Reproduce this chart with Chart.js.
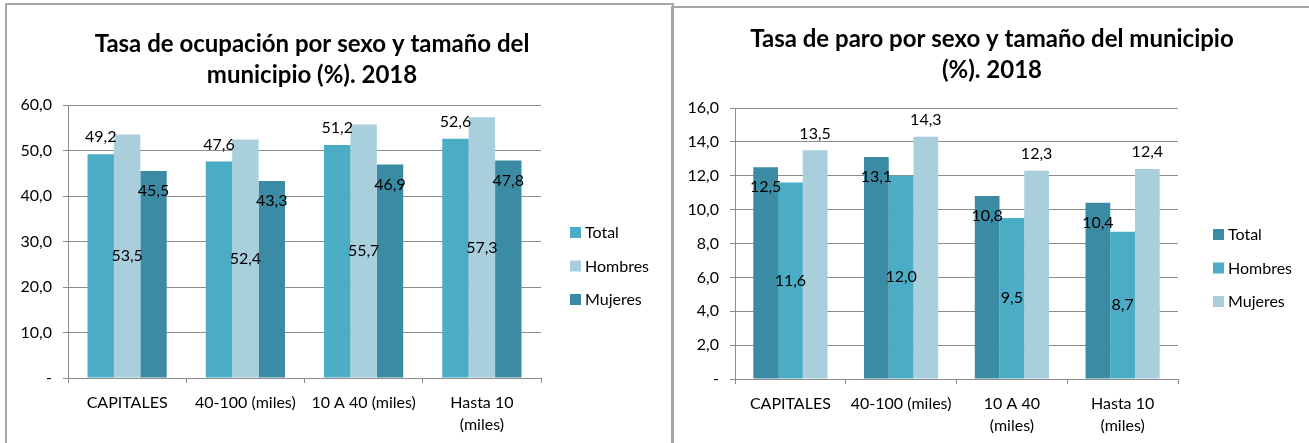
<!DOCTYPE html>
<html>
<head>
<meta charset="utf-8">
<script src="https://cdn.jsdelivr.net/npm/chart.js@4/dist/chart.umd.min.js"></script>
<style>
  html, body { margin: 0; padding: 0; background: #fff; overflow: hidden; }
  body { width: 1309px; height: 443px; position: relative; }
  canvas { position: absolute; top: 0; }
  .frame { position: absolute; border: 2px solid #a6a6a6; box-sizing: border-box; }
</style>
</head>
<body>
<div class="frame" style="left:5px;top:3px;width:669px;height:460px;"></div>
<div class="frame" style="left:671px;top:6px;width:660px;height:460px;"></div>
<canvas id="ocupacion" width="672" height="443" style="left:0"></canvas>
<canvas id="paro" width="637" height="443" style="left:672px"></canvas>
<script>
// categorías (tamaño del municipio)
const catsOcupacion = ["CAPITALES", "40-100 (miles)", "10 A 40 (miles)", ["Hasta 10", "(miles)"]];
const catsParo = ["CAPITALES", "40-100 (miles)", ["10 A 40", "(miles)"], ["Hasta 10", "(miles)"]];

// tasa de ocupación (%)
const ocupTotal = [49.2, 47.6, 51.2, 52.6];
const ocupHombres = [53.5, 52.4, 55.7, 57.3];
const ocupMujeres = [45.5, 43.3, 46.9, 47.8];

// tasa de paro (%)
const paroTotal = [12.5, 13.1, 10.8, 10.4];
const paroHombres = [11.6, 12.0, 9.5, 8.7];
const paroMujeres = [13.5, 14.3, 12.3, 12.4];

const ocupTicks = [0, 10, 20, 30, 40, 50, 60];
const paroTicks = [0, 2, 4, 6, 8, 10, 12, 14, 16];

const tituloOcupacion = ["Tasa de ocupación por sexo y tamaño del", "municipio (%). 2018"];
const tituloParo = ["Tasa de paro por sexo y tamaño del municipio", "(%). 2018"];

const MEDIO = "#4bacc6", CLARO = "#a9cfdd", OSCURO = "#3c8ba4";
const GRIS = "#8c8c8c";
const FUENTE = "Lato, 'Open Sans', sans-serif";

const fmt = (v) => (v === 0 ? "-" : v.toFixed(1).replace(".", ","));

// títulos, leyenda y etiquetas de datos a la manera de Excel
const excelBits = {
    id: "excelBits",
    afterDatasetsDraw(chart, args, opts) {
        const ctx = chart.ctx;
        ctx.save();
        ctx.fillStyle = "#000";
        ctx.textAlign = "center";
        ctx.textBaseline = "middle";
        ctx.font = "16px " + FUENTE;
        chart.data.datasets.forEach((ds, i) => {
            chart.getDatasetMeta(i).data.forEach((bar, j) => {
                let y;
                if (ds.labelPos === "out") y = bar.y - 17;
                else if (ds.labelPos === "in") y = bar.y + 20;
                else y = (bar.y + bar.base) / 2;
                ctx.fillText(fmt(ds.data[j]), bar.x, y);
            });
        });

        // título
        ctx.font = "bold 24px " + FUENTE;
        opts.title.forEach((line, k) => ctx.fillText(line, opts.titleX, opts.titleY + k * 31));

        // leyenda
        ctx.font = "16px " + FUENTE;
        ctx.textAlign = "left";
        chart.data.datasets.forEach((ds, i) => {
            const y = opts.legendY + i * 33.5;
            ctx.fillStyle = ds.backgroundColor;
            ctx.fillRect(opts.legendX, y - 6, 11, 11);
            ctx.fillStyle = "#000";
            ctx.fillText(ds.label, opts.legendX + 15, y);
        });
        ctx.restore();
    },
};

function hacerGrafico(id, labels, series, colores, posiciones, ticks, extra, pad, anchoY, altoX) {
    const nombres = ["Total", "Hombres", "Mujeres"];
    return new Chart(document.getElementById(id), {
        type: "bar",
        data: {
            labels: labels,
            datasets: series.map((d, i) => ({
                label: nombres[i],
                data: d,
                backgroundColor: colores[i],
                labelPos: posiciones[i],
                barPercentage: 1,
                categoryPercentage: 0.67,
            })),
        },
        options: {
            responsive: false,
            devicePixelRatio: 1,
            animation: false,
            layout: { padding: pad },
            plugins: {
                legend: { display: false },
                title: { display: false },
                tooltip: { enabled: false },
                excelBits: extra,
            },
            scales: {
                x: {
                    grid: { drawOnChartArea: false, drawTicks: true, tickLength: 5, color: GRIS, offset: true },
                    border: { color: GRIS },
                    ticks: {
                        color: "#000",
                        font: { family: FUENTE, size: 16, lineHeight: 1.35 },
                        padding: 9,
                        maxRotation: 0,
                        autoSkip: false,
                    },
                    afterFit: (s) => { s.height = altoX; },
                },
                y: {
                    min: ticks[0],
                    max: ticks[ticks.length - 1],
                    afterBuildTicks: (s) => { s.ticks = ticks.map((v) => ({ value: v })); },
                    grid: { color: GRIS, tickLength: 5 },
                    border: { color: GRIS },
                    ticks: {
                        color: "#000",
                        font: { family: FUENTE, size: 16 },
                        padding: 11,
                        callback: (v) => fmt(v),
                    },
                    afterFit: (s) => { s.width = anchoY; },
                },
            },
        },
        plugins: [excelBits],
    });
}

hacerGrafico(
    "ocupacion",
    catsOcupacion,
    [ocupTotal, ocupHombres, ocupMujeres],
    [MEDIO, CLARO, OSCURO],
    ["out", "center", "in"],
    ocupTicks,
    { title: tituloOcupacion, titleX: 312, titleY: 44, legendX: 570, legendY: 233 },
    { left: 0, right: 131, top: 105, bottom: 0 },
    68,
    65
);

hacerGrafico(
    "paro",
    catsParo,
    [paroTotal, paroHombres, paroMujeres],
    [OSCURO, MEDIO, CLARO],
    ["in", "center", "out"],
    paroTicks,
    { title: tituloParo, titleX: 320, titleY: 39, legendX: 541, legendY: 235 },
    { left: 0, right: 131, top: 108, bottom: 0 },
    63,
    64
);
</script>
</body>
</html>
